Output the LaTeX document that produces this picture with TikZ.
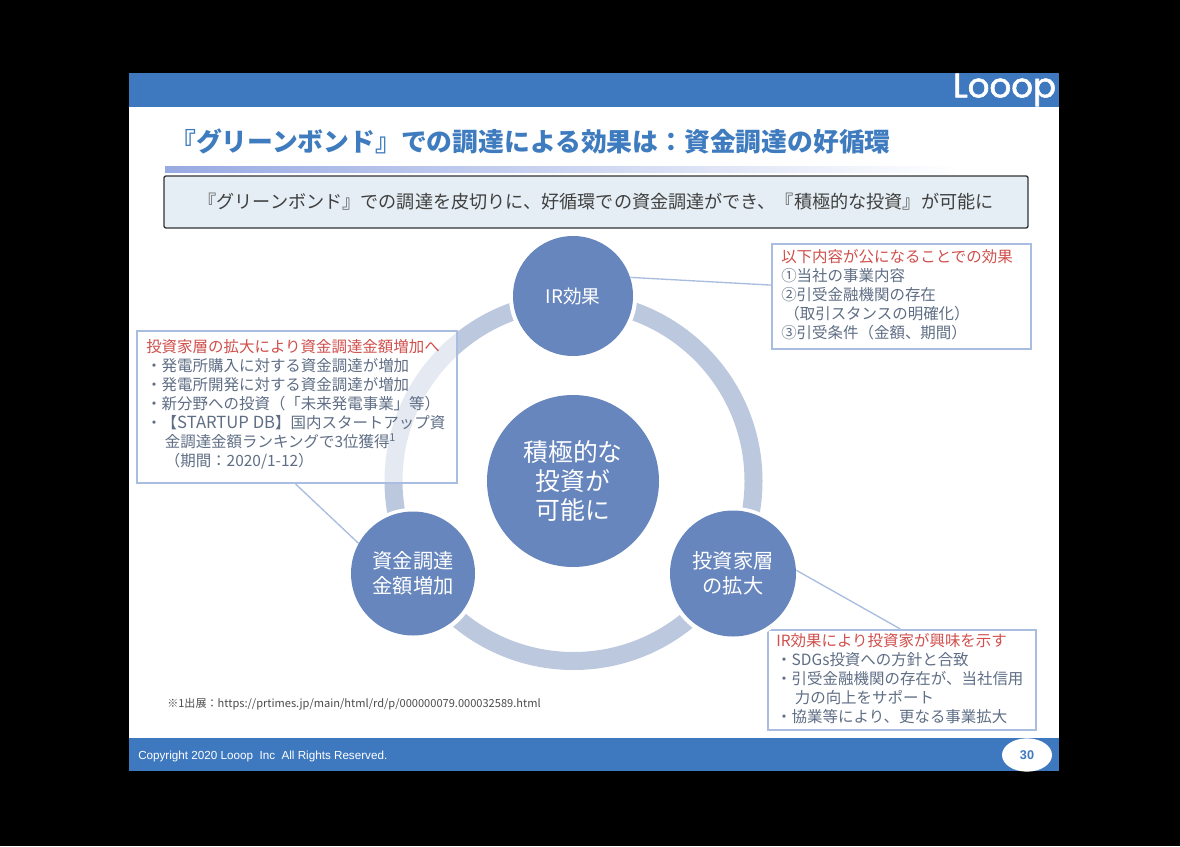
\documentclass[tikz,border=0pt]{standalone}
\usetikzlibrary{shapes.geometric}
\usepackage{fontspec}
\setmainfont{Noto Sans CJK JP}
\newfontfamily\latinsans{Liberation Sans}
\newfontfamily\logofont[FakeBold=1.6]{Poppins}
\definecolor{hdr}{HTML}{3E78BF}
\definecolor{circ}{HTML}{6786BD}
\definecolor{ringc}{HTML}{BCC8DE}
\definecolor{boxb}{HTML}{A9BDE0}
\definecolor{bodyt}{HTML}{5F6E85}
\definecolor{redt}{HTML}{D0504D}
\definecolor{titlec}{HTML}{3F7CBF}
\definecolor{topf}{HTML}{E5EEF4}
\tikzset{
 band/.style={fill=hdr,draw=none},
 bigcirc/.style={circle,fill=circ,text=white,inner sep=0pt,align=center},
 halo/.style={draw=white,line width=3.2pt},
 infobox/.style={rectangle,draw=boxb,line width=1.6pt,inner sep=0pt},
 infotext/.style={anchor=west,inner sep=0pt,align=left,text=bodyt,font=\fontsize{11.6pt}{14.25pt}\selectfont},
 leader/.style={draw=boxb,line width=1pt},
}
\newcommand{\redline}[1]{\textcolor{redt}{#1}}
\begin{document}
\begin{tikzpicture}[x=0.75pt,y=-0.75pt]
\useasboundingbox (0,0) rectangle (1180,846);
\fill[black] (0,0) rectangle (1180,846);
\fill[white] (129,73) rectangle (1059,771);
\fill[band] (129,73) rectangle (1059,107);
\fill[band] (129,738) rectangle (1059,771);
\node[inner sep=0pt,text=white,font=\logofont\fontsize{25.5pt}{26pt}\selectfont] (logo) at (1004.5,90) {Looop};
% title
\node[anchor=west,inner sep=0pt,text=titlec,font=\fontsize{19.35pt}{24pt}\selectfont\bfseries] (title) at (170,141) {『グリーンボンド』での調達による効果は：資金調達の好循環};
\shade[left color=boxb!90!blue,right color=white] (165,166) rectangle (960,172);
\node[rectangle,draw=black!80,fill=topf,line width=1pt,rounded corners=1.5pt,minimum width=648pt,minimum height=39pt,inner sep=0pt,text=black!75,font=\fontsize{13.6pt}{17pt}\selectfont] (top) at (596,202) {『グリーンボンド』での調達を皮切りに、好循環での資金調達ができ、『積極的な投資』が可能に};
% ring
\coordinate (ringc) at (573.5,481);
\draw[ringc,line width=13.5pt] (ringc) circle (180);
% boxes
\node[infobox,fill=white,fill opacity=.62,minimum width=240pt,minimum height=114pt] (boxl) at (297,407) {};
\node[infobox,fill=white,minimum width=194pt,minimum height=79pt] (boxr) at (901.5,296.5) {};
\node[infobox,fill=white,minimum width=201pt,minimum height=75pt] (boxb) at (902,680) {};
% halos
\draw[halo] (573,296) circle (62);
\draw[halo] (733,574) circle (65);
\draw[halo] (413,574) circle (64);
% circles
\node[bigcirc,minimum size=90pt,font=\fontsize{14pt}{16pt}\selectfont] (ir) at (573,296) {IR効果};
\node[bigcirc,minimum size=94.5pt,font=\fontsize{15.2pt}{18.75pt}\selectfont] (inv) at (733,573.5) {投資家層\\の拡大};
\node[bigcirc,minimum size=93pt,font=\fontsize{15.2pt}{18.75pt}\selectfont] (fund) at (413,573.5) {資金調達\\金額増加};
\node[bigcirc,minimum size=129pt,font=\fontsize{18.6pt}{22pt}\selectfont] (core) at (573,481) {積極的な\\投資が\\可能に};
% leaders
\draw[leader] (ir.18) -- (boxr.175);
\draw[leader] (inv.3) -- (boxb.92);
\draw[leader] (fund.151) -- (boxl.-91);
% box texts
\node[infotext] (tl) at (146,404.5) {\redline{投資家層の拡大により資金調達金額増加へ}\\
・発電所購入に対する資金調達が増加\\
・発電所開発に対する資金調達が増加\\
・新分野への投資（「未来発電事業」等）\\
・【{\fontsize{12.5pt}{14.25pt}\selectfont STARTUP DB}】国内スタートアップ資\\
\hspace*{1.2em}金調達金額ランキングで3位獲得\textsuperscript{1}\\
\hspace*{1.2em}（期間：2020/1-12）};
\node[infotext] (tr) at (781,295) {\redline{以下内容が公になることでの効果}\\
①当社の事業内容\\
②引受金融機関の存在\\
\hspace*{.2em}（取引スタンスの明確化）\\
③引受条件（金額、期間）};
\node[infotext] (tb) at (776,679) {\redline{IR効果により投資家が興味を示す}\\
・SDGs投資への方針と合致\\
・引受金融機関の存在が、当社信用\\
\hspace*{1.2em}力の向上をサポート\\
・協業等により、更なる事業拡大};
% footer
\node[anchor=west,inner sep=0pt,text=black!70,font=\fontsize{8.3pt}{10pt}\selectfont] (src) at (167,704) {※1出展：https://prtimes.jp/main/html/rd/p/000000079.000032589.html};
\node[anchor=west,inner sep=0pt,text=white,font=\latinsans\fontsize{8.75pt}{10pt}\selectfont] (copy) at (138,756) {Copyright 2020 Looop\ \ Inc\ \ All Rights Reserved.};
\node[ellipse,fill=white,minimum width=37.5pt,minimum height=25pt,inner sep=0pt] (pg) at (1027,755) {};
\node[text=hdr,inner sep=0pt,font=\latinsans\bfseries\fontsize{9.5pt}{10pt}\selectfont] (pgn) at (pg.center) {30};
\end{tikzpicture}
\end{document}
